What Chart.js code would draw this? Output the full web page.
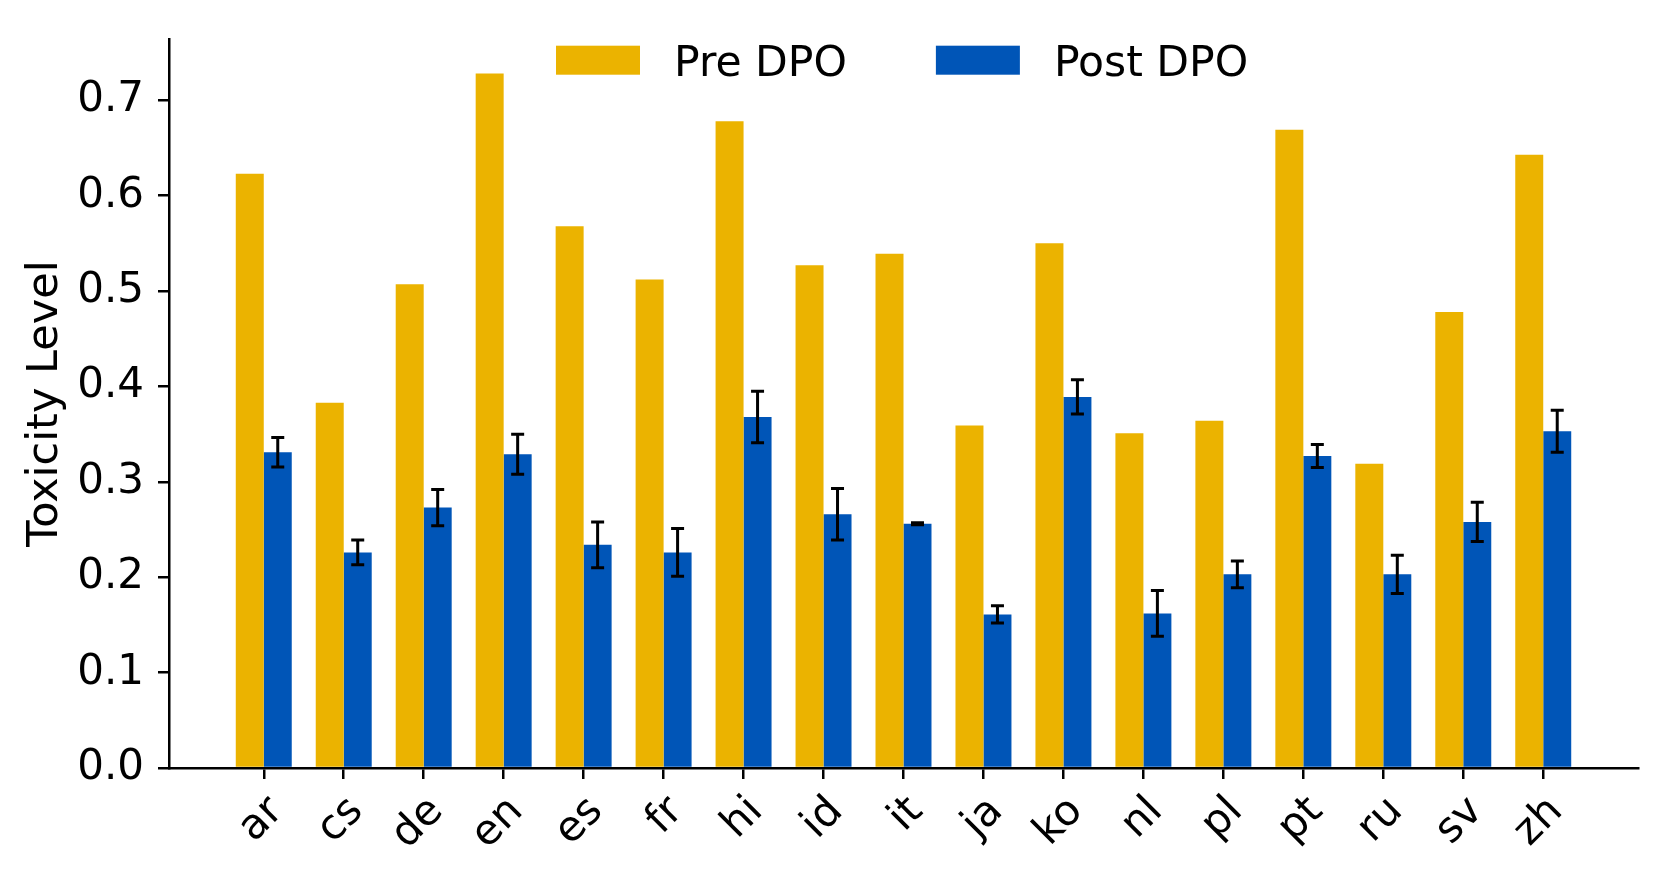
<!DOCTYPE html>
<html>
<head>
<meta charset="utf-8">
<script src="https://cdn.jsdelivr.net/npm/chart.js@4.4.1/dist/chart.umd.min.js"></script>
<style>
  html, body { margin: 0; padding: 0; background: #fff; }
  #wrap { width: 1661px; height: 882px; }
</style>
</head>
<body>
<div id="wrap"><canvas id="toxicity"></canvas></div>
<script>
var langs = ['ar', 'cs', 'de', 'en', 'es', 'fr', 'hi', 'id', 'it', 'ja', 'ko', 'nl', 'pl', 'pt', 'ru', 'sv', 'zh'];
var preDPO = [0.623, 0.383, 0.507, 0.728, 0.568, 0.512, 0.678, 0.527, 0.539, 0.359, 0.550, 0.351, 0.364, 0.669, 0.319, 0.478, 0.643];
var postDPO = [0.331, 0.226, 0.273, 0.329, 0.234, 0.226, 0.368, 0.266, 0.256, 0.161, 0.389, 0.162, 0.203, 0.327, 0.203, 0.258, 0.353];
var postErr = [0.0155, 0.013, 0.019, 0.021, 0.024, 0.025, 0.027, 0.027, 0.001, 0.009, 0.018, 0.024, 0.014, 0.012, 0.020, 0.0205, 0.022];

Chart.defaults.font.family = 'DejaVu Sans';
Chart.defaults.font.size = 42;
Chart.defaults.color = '#000';

function toPoints(values) {
    return values.map(function (v, i) { return { x: i, y: v }; });
}

// error bars on the Post DPO bars
var errorBars = {
    id: 'errorBars',
    afterDatasetsDraw: function (chart) {
        var ctx = chart.ctx;
        var yScale = chart.scales.y;
        var meta = chart.getDatasetMeta(1);
        ctx.save();
        ctx.strokeStyle = '#000';
        ctx.lineWidth = 3;
        meta.data.forEach(function (bar, i) {
            var v = postDPO[i], e = postErr[i];
            var top = yScale.getPixelForValue(v + e);
            var bot = yScale.getPixelForValue(v - e);
            ctx.beginPath();
            ctx.moveTo(bar.x, top);
            ctx.lineTo(bar.x, bot);
            ctx.moveTo(bar.x - 6.5, top);
            ctx.lineTo(bar.x + 6.5, top);
            ctx.moveTo(bar.x - 6.5, bot);
            ctx.lineTo(bar.x + 6.5, bot);
            ctx.stroke();
        });
        ctx.restore();
    }
};

// legend drawn inside the plot, like matplotlib's upper center legend
var insideLegend = {
    id: 'insideLegend',
    afterDraw: function (chart) {
        var ctx = chart.ctx;
        var area = chart.chartArea;
        var cx = (area.left + area.right) / 2;
        var midY = area.top + 21;
        var boxW = 84, boxH = 29, pad = 34, gap = 89;
        var x = cx - 347.5;
        ctx.save();
        ctx.font = '42.5px "DejaVu Sans"';
        ctx.textBaseline = 'alphabetic';
        ctx.textAlign = 'left';
        chart.data.datasets.forEach(function (ds) {
            ctx.fillStyle = ds.backgroundColor;
            ctx.fillRect(x, midY - boxH / 2, boxW, boxH);
            ctx.fillStyle = '#000';
            ctx.fillText(ds.label, x + boxW + pad, midY + 15.5);
            x += boxW + pad + ctx.measureText(ds.label).width + gap;
        });
        ctx.restore();
    }
};

new Chart(document.getElementById('toxicity'), {
    type: 'bar',
    data: {
        datasets: [{
            label: 'Pre DPO',
            data: toPoints(preDPO),
            backgroundColor: '#EBB300',
            categoryPercentage: 0.7,
            barPercentage: 1.0
        }, {
            label: 'Post DPO',
            data: toPoints(postDPO),
            backgroundColor: '#0055B7',
            categoryPercentage: 0.7,
            barPercentage: 1.0
        }]
    },
    options: {
        responsive: true,
        maintainAspectRatio: false,
        animation: false,
        layout: { padding: { top: 36, right: 23, left: 0, bottom: 0 } },
        plugins: {
            legend: { display: false },
            tooltip: { enabled: false }
        },
        scales: {
            x: {
                type: 'linear',
                min: -1.185,
                max: 17.185,
                offset: false,
                grid: { drawOnChartArea: false, offset: false, tickLength: 11, tickColor: '#000', lineWidth: 2.5 },
                border: { display: true, color: '#000', width: 2.5 },
                ticks: {
                    stepSize: 1,
                    maxTicksLimit: 40,
                    autoSkip: false,
                    includeBounds: false,
                    minRotation: 45,
                    maxRotation: 45,
                    padding: 8,
                    labelOffset: 13,
                    callback: function (value) {
                        return Number.isInteger(value) && value >= 0 && value < langs.length ? langs[value] : null;
                    }
                },
                afterFit: function (scale) { scale.height = 114; }
            },
            y: {
                min: 0,
                max: 0.764,
                grid: { drawOnChartArea: false, tickLength: 11, tickColor: '#000', lineWidth: 2.5 },
                border: { display: true, color: '#000', width: 2.5 },
                ticks: {
                    stepSize: 0.1,
                    includeBounds: false,
                    padding: 14,
                    callback: function (value) { return value.toFixed(1); }
                },
                title: {
                    display: true,
                    text: 'Toxicity Level',
                    font: { size: 43 },
                    padding: { top: 20, bottom: 0 }
                },
                afterFit: function (scale) { scale.width = 169; }
            }
        }
    },
    plugins: [errorBars, insideLegend]
});
</script>
</body>
</html>
